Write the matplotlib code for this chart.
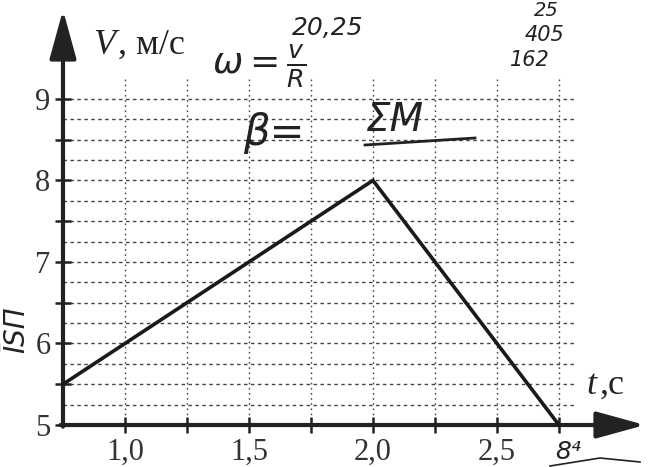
import matplotlib
matplotlib.use("Agg")
import matplotlib.pyplot as plt

# график скорости V(t)
t_points = [0.75, 1.0, 2.0, 2.75]
v_points = [5.5, 6.0, 8.0, 5.0]

t_ticks = [1.0, 1.25, 1.5, 1.75, 2.0, 2.25, 2.5, 2.75]
t_labels = ["1,0", "", "1,5", "", "2,0", "", "2,5", ""]
v_ticks = [5.0, 5.5, 6.0, 6.5, 7.0, 7.5, 8.0, 8.5, 9.0]
v_labels = ["5", "", "6", "", "7", "", "8", "", "9"]
grid_t = [1.0, 1.25, 1.5, 1.75, 2.0, 2.25, 2.5, 2.75]
grid_v = [5.25, 5.5, 5.75, 6.0, 6.25, 6.5, 6.75, 7.0, 7.25, 7.5, 7.75,
          8.0, 8.25, 8.5, 8.75, 9.0]

W, H = 654, 467
SERIF = ["Liberation Serif", "DejaVu Serif"]
HAND = ["DejaVu Sans"]


def fx(x):
    return x / W


def fy(y):
    return 1 - y / H


fig = plt.figure(figsize=(W / 100, H / 100), dpi=100)
fig.patch.set_facecolor("white")
ax = fig.add_axes([fx(63), fy(425), (645 - 63) / W, (425 - 10) / H])
ax.set_xlim(0.75, 3.097)
ax.set_ylim(5.0, 10.09)
for s in ax.spines.values():
    s.set_visible(False)

# сетка
ax.hlines(grid_v, 0.75, 2.82, colors="#444444", lw=1.0, linestyles=(0, (2.5, 2.5)), zorder=1)
ax.vlines(grid_t, 5.0, 9.26, colors="#444444", lw=1.0, linestyles=(0, (1.2, 2.5)), zorder=1)

# оси со стрелками
arrow = dict(arrowstyle="-|>,head_length=2.0,head_width=0.55", lw=3, color="#222222",
             mutation_scale=15, shrinkA=0, shrinkB=0)
ax.annotate("", xy=(0.75, 10.09), xytext=(0.75, 4.98), arrowprops=arrow, annotation_clip=False)
ax.annotate("", xy=(3.097, 5.0), xytext=(0.74, 5.0), arrowprops=arrow, annotation_clip=False)

ax.plot(t_points, v_points, color="#1a1a1a", lw=2.6, solid_capstyle="round",
        solid_joinstyle="miter", zorder=3, clip_on=False)

ax.set_xticks(t_ticks, t_labels)
ax.set_yticks(v_ticks, v_labels)
ax.tick_params(direction="inout", length=12, width=1.8, color="#222222", pad=3,
               labelsize=22, labelcolor="#333333")
for lab in ax.get_xticklabels() + ax.get_yticklabels():
    lab.set_family(SERIF)

# подписи осей
fig.text(fx(93), fy(45), "V", fontsize=26, family=SERIF, style="italic", va="center", color="#222222")
fig.text(fx(118), fy(45), ", м/с", fontsize=26, family=SERIF, va="center", color="#222222")
fig.text(fx(586), fy(385), "t", fontsize=26, family=SERIF, style="italic", va="center", color="#222222")
fig.text(fx(600), fy(385), ",с", fontsize=26, family=SERIF, va="center", color="#222222")

# рукописные пометки
hw = dict(family=HAND, color="#222222", style="italic", fontweight="light")
fig.text(fx(212), fy(66), r"$\omega=\frac{v}{R}$", fontsize=26, va="center", color="#222222")
fig.text(fx(292), fy(28), "20,25", fontsize=18, va="center", **hw)
fig.text(fx(243), fy(133), "β=", fontsize=30, va="center", **hw)
fig.text(fx(366), fy(120), "ΣM", fontsize=28, va="center", **hw)
fig.add_artist(plt.Line2D([fx(365), fx(475)], [fy(145), fy(138)], color="#222222", lw=2))
fig.text(fx(534), fy(10), "25", fontsize=14, va="center", **hw)
fig.text(fx(525), fy(35), "405", fontsize=15, va="center", **hw)
fig.text(fx(510), fy(60), "162", fontsize=15, va="center", **hw)
fig.text(fx(16), fy(330), "ĪSП", fontsize=20, va="center", ha="center", rotation=90, **hw)
fig.text(fx(555), fy(452), "8⁴", fontsize=18, va="center", **hw)
fig.add_artist(plt.Line2D([fx(550), fx(600), fx(640)], [fy(466), fy(458), fy(462)],
                          color="#222222", lw=1.2))

fig.savefig("out.png", dpi=100)
